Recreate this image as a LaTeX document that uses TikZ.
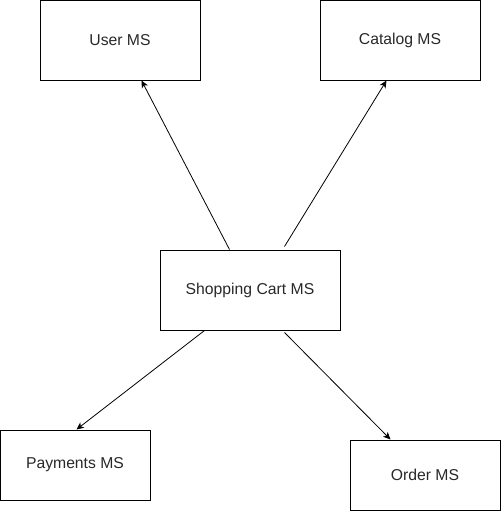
\documentclass[tikz,border=0pt]{standalone}
\usepackage{fontspec}
\setmainfont{Liberation Sans}
\usetikzlibrary{arrows.meta,calc}
\definecolor{msText}{RGB}{40,40,40}
\tikzset{
  msbox/.style={draw,rectangle,inner sep=0pt,line width=0.75pt,text=msText,
    font=\fontsize{11.8}{14}\selectfont},
  calls/.style={-{Stealth[length=5.5pt,width=5pt,inset=1.5pt]},line width=0.6pt}
}

\begin{document}
\begin{tikzpicture}[x=0.75pt,y=-0.75pt]
  \useasboundingbox (0,0) rectangle (501,511);

  %services
  \node[msbox,minimum width=120pt,minimum height=60pt] (user) at (120,40) {User MS};
  \node[msbox,minimum width=120pt,minimum height=60pt] (catalog) at (400,40) {Catalog MS};
  \node[msbox,minimum width=135pt,minimum height=60pt] (cart) at (250,290) {Shopping Cart MS};
  \node[msbox,minimum width=112.5pt,minimum height=52.5pt] (payments) at (75,465) {Payments MS};
  \node[msbox,minimum width=112.5pt,minimum height=52.5pt] (order) at (425,475) {Order MS};

  %calls out of the cart
  \draw[calls] ($(cart.north west)+(70,0)$) -- ($(user.south west)+(102,0)$);
  \draw[calls] ($(cart.north west)+(125,-3)$) -- ($(catalog.south west)+(67,0)$);
  \draw[calls] ($(cart.south west)+(45,0)$) -- ($(payments.north west)+(77,0)$);
  \draw[calls] ($(cart.south west)+(125,2)$) -- ($(order.north west)+(41,0)$);
\end{tikzpicture}
\end{document}
